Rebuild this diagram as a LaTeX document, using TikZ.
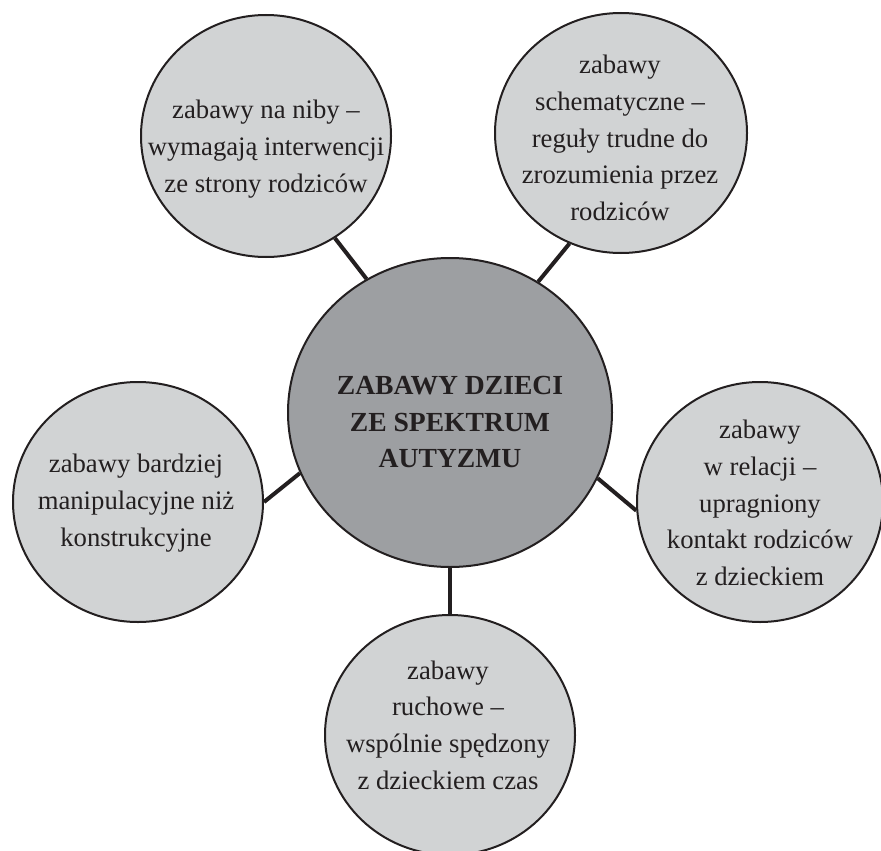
\documentclass[tikz,border=0pt]{standalone}
\usepackage{fontspec}
\setmainfont{Liberation Serif}
\usetikzlibrary{shapes.geometric,backgrounds}
\definecolor{lightfill}{RGB}{209,211,212}
\definecolor{darkfill}{RGB}{157,159,162}
\definecolor{ink}{RGB}{35,31,32}
\tikzset{
  bubble/.style={ellipse, draw=ink, line width=2pt, fill=lightfill, inner sep=0pt},
  hub/.style={ellipse, draw=ink, line width=2pt, fill=darkfill, inner sep=0pt,
    minimum width=324pt, minimum height=309pt},
  label/.style={align=center, text=ink, inner sep=0pt,
    font=\fontsize{26.7}{36.7}\selectfont},
  hublabel/.style={align=center, text=ink, inner sep=0pt,
    font=\fontsize{27.6}{36.7}\selectfont\bfseries},
  link/.style={draw=ink, line width=4pt}
}
\begin{document}
\begin{tikzpicture}[x=1pt,y=-1pt]
\useasboundingbox (0,0) rectangle (881,851);
\node[hub] (c) at (450,412.5) {};
\node[bubble, minimum width=250pt, minimum height=242pt] (tl) at (266,136) {};
\node[bubble, minimum width=252pt, minimum height=240pt] (tr) at (621,133) {};
\node[bubble, minimum width=250pt, minimum height=240pt] (l) at (138,502) {};
\node[bubble, minimum width=246pt, minimum height=240pt] (r) at (760,502) {};
\node[bubble, minimum width=250pt, minimum height=240pt] (b) at (450,735) {};
\begin{scope}[on background layer]
\draw[link] (tl.-56.7) -- (c.122.3);
\draw[link] (tr.-115.3) -- (c.56.6);
\draw[link] (l.0) -- (c.202.3);
\draw[link] (r.184) -- (c.-24.7);
\draw[link] (c.-90) -- (b.90);
\end{scope}
\node[hublabel] (ct) at (450,422) {ZABAWY DZIECI\\ZE SPEKTRUM\\AUTYZMU};
\node[label] (tlt) at (266,149) {zabawy na niby –\\wymagają interwencji\\ze strony rodziców};
\node[label] (trt) at (620,138) {zabawy\\schematyczne –\\reguły trudne do\\zrozumienia przez\\rodziców};
\node[label] (lt) at (136,503) {zabawy bardziej\\manipulacyjne niż\\konstrukcyjne};
\node[label] (rt) at (760,503) {zabawy\\w relacji –\\upragniony\\kontakt rodziców\\z dzieckiem};
\node[label] (bt) at (448,725) {zabawy\\ruchowe –\\wspólnie spędzony\\z dzieckiem czas};
\end{tikzpicture}
\end{document}
